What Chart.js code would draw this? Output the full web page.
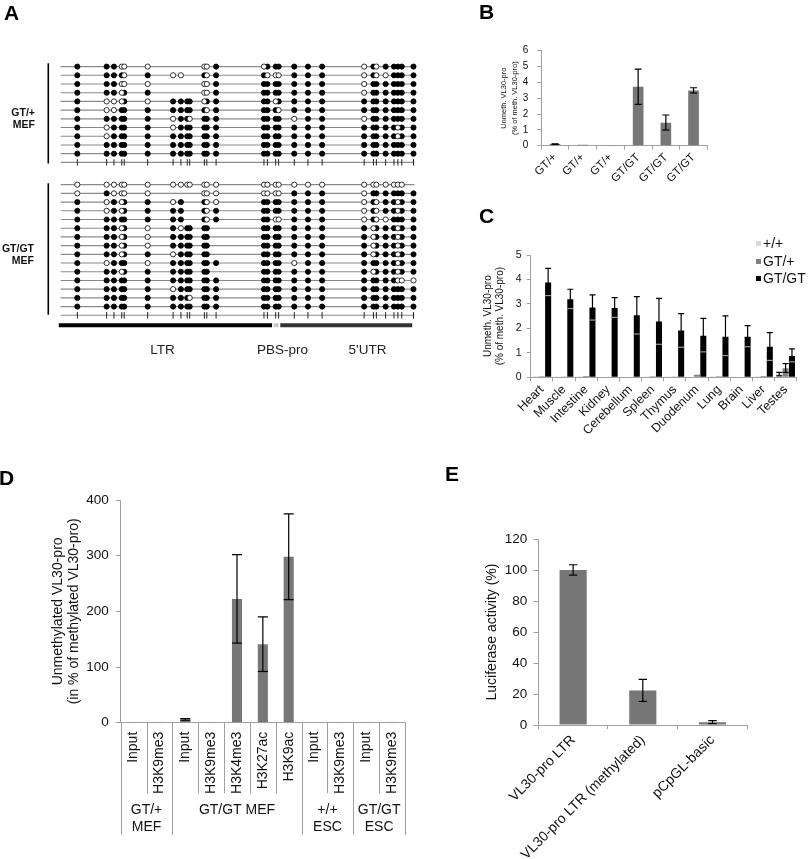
<!DOCTYPE html>
<html>
<head>
<meta charset="utf-8">
<script src="https://cdn.jsdelivr.net/npm/chart.js@4.4.1/dist/chart.umd.min.js"></script>
<style>
  body { margin: 0; background: #fff; }
  #fig { position: relative; width: 810px; height: 859px; overflow: hidden; font-family: Arial, "Liberation Sans", sans-serif; }
  canvas { position: absolute; }
  .lbl { position: absolute; white-space: nowrap; color: #111; }
  .panel { font-weight: bold; font-size: 21px; line-height: 21px; color: #000; }
  .clone { font-weight: bold; font-size: 10.5px; line-height: 12.3px; text-align: right; width: 35px; left: 0; }
  .region { font-size: 13.5px; line-height: 14px; color: #222; transform: translateX(-50%); }
  .leg { font-size: 14px; line-height: 14px; left: 756px; }
  .leg span { display: inline-block; width: 5px; height: 5px; margin-right: 2px; vertical-align: 2px; }
</style>
</head>
<body>
<div id="fig">
  <canvas id="cA" width="440" height="370" style="left:0;top:0"></canvas>
  <canvas id="cB" width="370" height="190" style="left:440px;top:0"></canvas>
  <canvas id="cC" width="370" height="260" style="left:440px;top:180px"></canvas>
  <canvas id="cD" width="430" height="439" style="left:0;top:420px"></canvas>
  <canvas id="cE" width="380" height="439" style="left:430px;top:420px"></canvas>

  <div class="lbl panel" style="left:4px;top:2px">A</div>
  <div class="lbl panel" style="left:479px;top:0.5px">B</div>
  <div class="lbl panel" style="left:479px;top:205px">C</div>
  <div class="lbl panel" style="left:-1px;top:467px">D</div>
  <div class="lbl panel" style="left:445px;top:462.5px">E</div>

  <div class="lbl clone" style="top:105.5px">GT/+<br>MEF</div>
  <div class="lbl clone" style="top:241.5px;width:34px">GT/GT<br>MEF</div>

  <div class="lbl region" style="left:162.5px;top:343px">LTR</div>
  <div class="lbl region" style="left:282.5px;top:343px">PBS-pro</div>
  <div class="lbl region" style="left:367.5px;top:343px">5'UTR</div>

  <div id="legendC"></div>
</div>

<script>
const FONT = 'Arial, "Liberation Sans", sans-serif';
Chart.defaults.font.family = FONT;
Chart.defaults.color = '#111';

// ---------------- A: bisulfite clones ----------------
// CpG positions along the sequenced fragment (schematic units)
const cpgSites = [74, 104, 111.5, 119.5, 122, 146, 172, 180, 186.5, 189, 204, 206.5, 216,
  265, 268.5, 277, 280, 296, 310, 324.5, 367.5, 377, 380, 389.5, 398, 402, 406, 418];
const cloneStart = 57;
const cloneEnd = 419;
// 1 = methylated, 0 = unmethylated, - = not read
const hetClones = [
  '111000----001011111101011111',
  '11110100--101100011101001111',
  '111000----001111111101111111',
  '111011----001111111101111111',
  '1000101111011110111111111111',
  '1001111111101111011111111111',
  '1111110110111111101101111111',
  '1011110111111111111111111011',
  '1011111111111111111111111011',
  '1111111111111111111111111111',
  '1111111111111111111111111111',
];
const homClones = [
  '000000000000000000000000000-',
  '010000----000000011101111111',
  '10101101--100111111101011011',
  '10101111--101111111101011011',
  '11111111--101110011101001111',
  '111010101111-111111110111011',
  '111010111111-111111110111011',
  '111010111111-111111110111011',
  '111011011111-111111110111011',
  '1011101111111111101111111011',
  '111011111111-111111110111011',
  '1111111111111111111111111000',
  '1111110111111111111111111111',
  '1111111110111111111111111111',
  '1111111111111111111111111111',
];
const ltrSegments = [[55, 273.3], [275, 280], [281.7, 416.7]];
const ltrColors = ['#000', '#c8c8c8', '#333'];

// ---------------- B ----------------
const bLabels = ['GT/+', 'GT/+', 'GT/+', 'GT/GT', 'GT/GT', 'GT/GT'];
const bValues = [0.1, 0.06, 0.05, 3.73, 1.45, 3.49];
const bErrLow = [0.08, null, null, 2.61, 0.99, 3.33];
const bErrHigh = [0.12, null, null, 4.84, 1.94, 3.66];

// ---------------- C ----------------
const cLabels = ['Heart', 'Muscle', 'Intestine', 'Kidney', 'Cerebellum', 'Spleen', 'Thymus',
  'Duodenum', 'Lung', 'Brain', 'Liver', 'Testes'];
const cSeries = ['+/+', 'GT/+', 'GT/GT'];
const cWild = [0.04, 0.03, 0.04, 0.02, 0.02, 0.03, 0.03, 0.02, 0.04, 0.02, 0.04, 0.14];
const cHet = [0.04, 0.03, 0.05, 0.02, 0.02, 0.04, 0.03, 0.1, 0.04, 0.02, 0.05, 0.37];
const cHom = [3.88, 3.19, 2.85, 2.83, 2.54, 2.28, 1.91, 1.7, 1.66, 1.66, 1.25, 0.87];
const cWildLow = [null, null, null, null, null, null, null, null, null, null, null, 0.06];
const cWildHigh = [null, null, null, null, null, null, null, null, null, null, null, 0.2];
const cHetLow = [null, null, null, null, null, null, null, null, null, null, null, 0.2];
const cHetHigh = [null, null, null, null, null, null, null, null, null, null, null, 0.56];
const cHomLow = [3.34, 2.81, 2.34, 2.45, 1.77, 1.35, 1.23, 1.04, 0.89, 1.25, 0.69, 0.63];
const cHomHigh = [4.45, 3.6, 3.37, 3.26, 3.3, 3.23, 2.6, 2.41, 2.51, 2.11, 1.83, 1.16];

// ---------------- D ----------------
const dLabels = ['Input', 'H3K9me3', 'Input', 'H3K9me3', 'H3K4me3', 'H3K27ac', 'H3K9ac',
  'Input', 'H3K9me3', 'Input', 'H3K9me3'];
const dGroupLabels = [['GT/+', 'MEF'], ['GT/GT MEF'], ['+/+', 'ESC'], ['GT/GT', 'ESC']];
const dGroupSizes = [2, 5, 2, 2];
const dValues = [0.5, 0.3, 6, 0.5, 222, 141, 298, 1, 0.5, 0.5, 0.3];
const dErrLow = [null, null, 4.5, null, 143, 92, 221, null, null, null, null];
const dErrHigh = [null, null, 7.5, null, 302, 190, 375, null, null, null, null];

// ---------------- E ----------------
const eLabels = ['VL30-pro LTR', 'VL30-pro LTR (methylated)', 'pCpGL-basic'];
const eValues = [100, 22.3, 1.8];
const eErrLow = [96.7, 15.2, 0.9];
const eErrHigh = [103.4, 29.5, 2.8];

const AXIS = '#a0a0a0';
const BAR = '#777777';

// error bars drawn from errLow / errHigh stored on each dataset
const errorBars = {
  id: 'errorBars',
  afterDatasetsDraw(chart, args, opts) {
    const { ctx } = chart;
    const y = chart.scales.y;
    chart.data.datasets.forEach((ds, di) => {
      if (!ds.errLow) return;
      chart.getDatasetMeta(di).data.forEach((bar, i) => {
        const lo = ds.errLow[i];
        const hi = ds.errHigh[i];
        if (lo == null) return;
        const yl = y.getPixelForValue(lo);
        const yh = y.getPixelForValue(hi);
        const w = opts.cap;
        ctx.save();
        ctx.lineWidth = opts.width;
        ctx.strokeStyle = opts.color;
        ctx.beginPath();
        ctx.moveTo(bar.x, yl); ctx.lineTo(bar.x, yh);
        ctx.moveTo(bar.x - w, yh); ctx.lineTo(bar.x + w, yh);
        ctx.stroke();
        ctx.strokeStyle = ds.lowCapColor || opts.color;
        ctx.beginPath();
        ctx.moveTo(bar.x - w, yl); ctx.lineTo(bar.x + w, yl);
        ctx.stroke();
        ctx.restore();
      });
    });
  }
};

function yAxis(max, step, size, title, titleSize, titleLh, width, tickLen, pad) {
  return {
    min: 0, max: max,
    ticks: { stepSize: step, font: { size: size }, color: '#111', padding: pad },
    grid: { drawOnChartArea: false, tickLength: tickLen, color: AXIS },
    border: { color: AXIS },
    title: { display: true, text: title, color: '#111', padding: 0, font: { size: titleSize, lineHeight: titleLh } },
    afterFit: s => { s.width = width; }
  };
}

function xAxis(size, rot, height, pad) {
  return {
    ticks: { font: { size: size }, color: '#111', maxRotation: rot, minRotation: rot, autoSkip: false, padding: pad },
    grid: { drawOnChartArea: false, tickLength: 4, color: AXIS, offset: true },
    border: { color: AXIS },
    afterFit: s => { s.height = height; }
  };
}

const common = {
  responsive: false,
  animation: false,
  events: [],
};

// ---------------- draw A ----------------
const rowPx = 8.95;
const row0Px = 63.3;
const rows = [];
hetClones.forEach((s, i) => rows.push({ y: i, s }));
const hetTickY = hetClones.length;
const homY0 = hetTickY + 2.56;
homClones.forEach((s, i) => rows.push({ y: homY0 + i, s }));
const homTickY = homY0 + homClones.length;
const tickRows = [hetTickY, homTickY];
const ltrY = homTickY + 1.14;

const filled = [];
const open = [];
rows.forEach(r => [...r.s].forEach((c, j) => {
  if (c === '1') filled.push({ x: cpgSites[j], y: r.y });
  else if (c === '0') open.push({ x: cpgSites[j], y: r.y });
}));
const ticks = [];
tickRows.forEach(y => cpgSites.forEach(x => ticks.push({ x, y })));

function lineDs(pts, color, width) {
  return { data: pts, showLine: true, pointRadius: 0, borderColor: color, borderWidth: width,
    borderCapStyle: 'butt', order: 3 };
}
const dsA = [];
rows.map(r => r.y).concat(tickRows).forEach(y =>
  dsA.push(lineDs([{ x: cloneStart, y }, { x: cloneEnd, y }], '#8a8a8a', 1.1)));
dsA.push(lineDs([{ x: 44.3, y: -0.37 }, { x: 44.3, y: hetTickY + 0.14 }], '#000', 1.6));
dsA.push(lineDs([{ x: 44.3, y: homY0 - 0.16 }, { x: 44.3, y: homTickY - 0.06 }], '#000', 1.6));
ltrSegments.forEach((seg, i) =>
  dsA.push(lineDs([{ x: seg[0], y: ltrY }, { x: seg[1], y: ltrY }], ltrColors[i], 4)));
dsA.push({ data: ticks, pointStyle: 'line', rotation: 90, pointRadius: 3.2, borderColor: '#222',
  borderWidth: 1, order: 1 });
dsA.push({ data: open, pointRadius: 2.6, backgroundColor: '#fff', borderColor: '#000',
  borderWidth: 0.8, order: 1 });
dsA.push({ data: filled, pointRadius: 2.6, backgroundColor: '#000', borderColor: '#000',
  borderWidth: 0.8, order: 1 });

const yMinA = -row0Px / rowPx;
new Chart(document.getElementById('cA'), {
  type: 'scatter',
  data: { datasets: dsA },
  options: {
    ...common,
    layout: { padding: 0 },
    plugins: { legend: { display: false }, tooltip: { enabled: false } },
    scales: {
      x: { type: 'linear', display: false, min: 0, max: 440 },
      y: { type: 'linear', display: false, reverse: true, min: yMinA, max: yMinA + 370 / rowPx }
    }
  }
});

// ---------------- draw B ----------------
new Chart(document.getElementById('cB'), {
  type: 'bar',
  data: {
    labels: bLabels,
    datasets: [{ data: bValues, errLow: bErrLow, errHigh: bErrHigh, backgroundColor: BAR,
      barPercentage: 0.386, categoryPercentage: 1 }]
  },
  options: {
    ...common,
    layout: { padding: { left: 58.5, top: 50.7, right: 102.6, bottom: 0 } },
    plugins: { legend: { display: false }, tooltip: { enabled: false },
      errorBars: { cap: 3.5, width: 1.2, color: '#000' } },
    scales: {
      x: xAxis(11.5, 45, 44.3, 1),
      y: yAxis(6, 1, 10, ['Unmeth. VL30-pro', '(% of meth. VL30-pro)'], 7.5, 1.45, 42.7, 4, 9)
    }
  },
  plugins: [errorBars]
});

// ---------------- draw C ----------------
const cColors = ['#d9d9d9', '#808080', '#000000'];
new Chart(document.getElementById('cC'), {
  type: 'bar',
  data: {
    labels: cLabels,
    datasets: [
      { label: cSeries[0], data: cWild, errLow: cWildLow, errHigh: cWildHigh, backgroundColor: cColors[0] },
      { label: cSeries[1], data: cHet, errLow: cHetLow, errHigh: cHetHigh, backgroundColor: cColors[1] },
      { label: cSeries[2], data: cHom, errLow: cHomLow, errHigh: cHomHigh, backgroundColor: cColors[2],
        lowCapColor: '#9a9a9a' }
    ].map(d => ({ ...d, barPercentage: 0.95, categoryPercentage: 0.86 }))
  },
  options: {
    ...common,
    layout: { padding: { left: 42.5, top: 75, right: 13.3, bottom: 0 } },
    plugins: { legend: { display: false }, tooltip: { enabled: false },
      errorBars: { cap: 3, width: 1.2, color: '#000' } },
    scales: {
      x: xAxis(12.5, 45, 62.7, 1),
      y: yAxis(5, 1, 10.5, ['Unmeth. VL30-pro', '(% of meth. VL30-pro)'], 10, 1.16, 48.2, 4, 5)
    }
  },
  plugins: [errorBars]
});

// legend for C
const legendC = document.getElementById('legendC');
cSeries.forEach((name, i) => {
  const div = document.createElement('div');
  div.className = 'lbl leg';
  div.style.top = (236.3 + i * 17.5) + 'px';
  div.innerHTML = '<span style="background:' + cColors[i] + '"></span>' + name;
  legendC.appendChild(div);
});

// ---------------- draw D ----------------
const groupAxis = {
  id: 'groupAxis',
  afterDraw(chart, args, opts) {
    const { ctx } = chart;
    const x = chart.scales.x;
    const y0 = x.top;
    ctx.save();
    ctx.strokeStyle = opts.color;
    ctx.lineWidth = 1;
    ctx.fillStyle = '#111';
    ctx.font = opts.size + 'px ' + FONT;
    ctx.textAlign = 'center';
    ctx.textBaseline = 'middle';
    const vline = (px, len) => {
      ctx.beginPath();
      ctx.moveTo(Math.round(px) + 0.5, y0);
      ctx.lineTo(Math.round(px) + 0.5, y0 + len);
      ctx.stroke();
    };
    let start = 0;
    dGroupSizes.forEach((n, g) => {
      for (let k = 1; k < n; k++) vline(x.getPixelForValue(start + k - 0.5), opts.inner);
      const left = x.getPixelForValue(start - 0.5);
      const right = x.getPixelForValue(start + n - 0.5);
      vline(left, opts.outer);
      vline(right, opts.outer);
      dGroupLabels[g].forEach((t, li) => ctx.fillText(t, (left + right) / 2, y0 + opts.textTop + li * opts.lineH));
      start += n;
    });
    ctx.restore();
  }
};

new Chart(document.getElementById('cD'), {
  type: 'bar',
  data: {
    labels: dLabels,
    datasets: [{ data: dValues, errLow: dErrLow, errHigh: dErrHigh, backgroundColor: BAR,
      barPercentage: 0.39, categoryPercentage: 1 }]
  },
  options: {
    ...common,
    layout: { padding: { left: 50.45, top: 80, right: 25, bottom: 0 } },
    plugins: { legend: { display: false }, tooltip: { enabled: false },
      errorBars: { cap: 5, width: 1.2, color: '#000' },
      groupAxis: { color: AXIS, inner: 70.6, outer: 112.3, textTop: 87.3, lineH: 16.7, size: 14 } },
    scales: {
      x: {
        ticks: { font: { size: 14 }, color: '#111', maxRotation: 90, minRotation: 90, autoSkip: false, padding: 9 },
        grid: { display: false, drawTicks: false },
        border: { color: AXIS },
        afterFit: s => { s.height = 136.3; }
      },
      y: yAxis(400, 100, 13.5, ['Unmethylated VL30-pro', '(in % of methylated VL30-pro)'], 14, 1.12, 70.25, 5, 7)
    }
  },
  plugins: [errorBars, groupAxis]
});

// ---------------- draw E ----------------
new Chart(document.getElementById('cE'), {
  type: 'bar',
  data: {
    labels: eLabels,
    datasets: [{ data: eValues, errLow: eErrLow, errHigh: eErrHigh, backgroundColor: BAR,
      barPercentage: 0.39, categoryPercentage: 1 }]
  },
  options: {
    ...common,
    layout: { padding: { left: 53.7, top: 119, right: 62.7, bottom: 0 } },
    plugins: { legend: { display: false }, tooltip: { enabled: false },
      errorBars: { cap: 4.2, width: 1.2, color: '#000' } },
    scales: {
      x: xAxis(14, 45, 134, 3),
      y: yAxis(120, 20, 13.5, 'Luciferase activity (%)', 14, 1.14, 54.6, 5, 6)
    }
  },
  plugins: [errorBars]
});
</script>
</body>
</html>
